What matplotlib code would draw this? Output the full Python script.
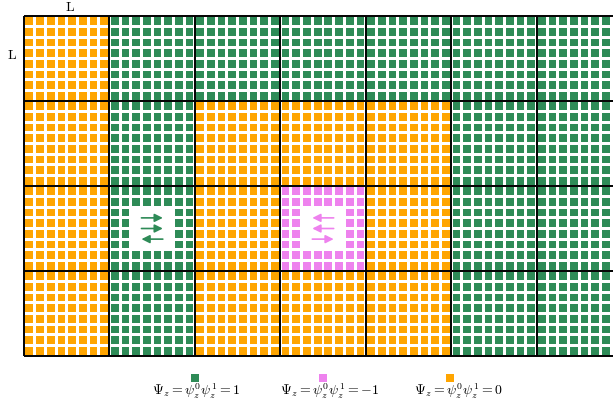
import matplotlib
matplotlib.use("Agg")
import matplotlib.pyplot as plt
from matplotlib.patches import Rectangle

plt.rcParams['mathtext.fontset'] = 'cm'
plt.rcParams['font.family'] = 'serif'
plt.rcParams['font.serif'] = ['DejaVu Serif']

# block layout (rows top to bottom): g = +1, p = -1, o = 0
blocks = [
    "ogggggg",
    "ogooogg",
    "ogopogg",
    "ogooogg",
]
colors = {'g': '#2e8b57', 'p': '#ee82ee', 'o': '#ffa500'}
n = 8  # sites per block side

# blocks with an empty 4x4 centre, and the arrows drawn inside them
holes = [(2, 1), (2, 3)]
arrows = {(2, 1): [1, 1, -1], (2, 3): [-1, -1, 1]}

legend_labels = [r'$\Psi_z=\psi_z^0\psi_z^1=1$',
                 r'$\Psi_z=\psi_z^0\psi_z^1=-1$',
                 r'$\Psi_z=\psi_z^0\psi_z^1=0$']
legend_keys = ['g', 'p', 'o']

fig = plt.figure(figsize=(6.13, 4.05), dpi=100)
W, H = 613, 405
ax = fig.add_axes([24 / W, 49 / H, 598 / W, 340 / H])
nrow, ncol = len(blocks), len(blocks[0])
ax.set_xlim(0, ncol * n)
ax.set_ylim(nrow * n, 0)
ax.axis('off')

s = 0.72
for r, row in enumerate(blocks):
    for c, key in enumerate(row):
        for i in range(n):
            for j in range(n):
                if (r, c) in holes and 2 <= i < 6 and 2 <= j < 6:
                    continue
                x = c * n + j + 0.5 - s / 2
                y = r * n + i + 0.5 - s / 2
                ax.add_patch(Rectangle((x, y), s, s, color=colors[key], lw=0))

for (r, c), dirs in arrows.items():
    cx, cy = c * n + n / 2, r * n + n / 2
    col = colors[blocks[r][c]]
    for k, d in enumerate(dirs):
        yy = cy + (k - 1) * 1.0
        ax.annotate('', xy=(cx + d, yy), xytext=(cx - d, yy),
                    arrowprops=dict(arrowstyle='-|>', color=col, lw=1.2,
                                    mutation_scale=12, shrinkA=0, shrinkB=0))

for k in range(nrow + 1):
    ax.plot([0, ncol * n], [k * n, k * n], color='k', lw=1.4, clip_on=False,
            solid_capstyle='butt')
for k in range(ncol + 1):
    ax.plot([k * n, k * n], [0, nrow * n], color='k', lw=1.4, clip_on=False,
            solid_capstyle='butt')

fig.text(70 / W, 1 - 7 / H, r'$\mathrm{L}$', ha='center', va='center', fontsize=10)
fig.text(12 / W, 1 - 55 / H, r'$\mathrm{L}$', ha='center', va='center', fontsize=10)

marker_x = [195, 323, 450]
text_x = [196, 330, 459]
for lab, key, mx, tx in zip(legend_labels, legend_keys, marker_x, text_x):
    fig.patches.append(Rectangle(((mx - 4) / W, 1 - 382 / H), 8 / W, 8 / H,
                                 transform=fig.transFigure, color=colors[key], lw=0))
    fig.text(tx / W, 1 - 391 / H, lab, ha='center', va='center', fontsize=10)

fig.savefig('out.png', dpi=100)
